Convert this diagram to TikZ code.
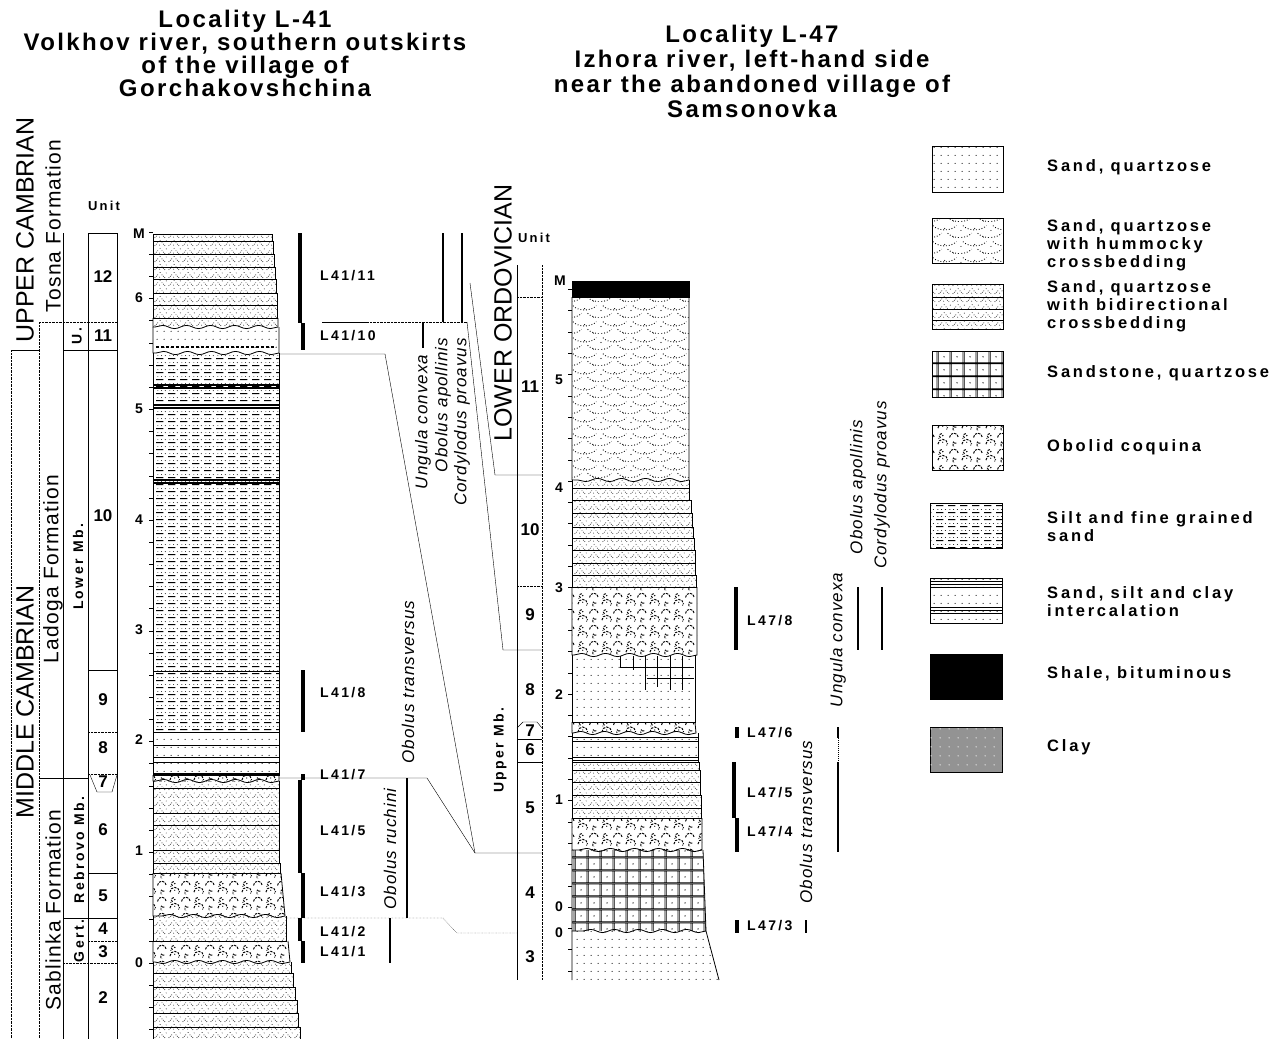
\documentclass[tikz,border=0pt]{standalone}
\usepackage{fontspec}
\setmainfont{Liberation Sans}
\newfontfamily\spaced[LetterSpace=17]{Liberation Sans}
\newfontfamily\loose[LetterSpace=6]{Liberation Sans}
\newfontfamily\titlefont[LetterSpace=10]{Liberation Sans}
\usetikzlibrary{patterns.meta,decorations.pathmorphing}

\tikzset{dotline/.style={line width=0.9pt,dash pattern=on 0.9pt off 2pt},
  shell/.style={line width=1pt,dash pattern=on 2.4pt off 1.2pt}}

% lithology fills
\tikzdeclarepattern{name=sandq,type=colored,
  bottom left={(0pt,0pt)},top right={(7pt,8pt)},tile size={(7pt,8pt)},
  code={\tikzset{x=1pt,y=1pt}\fill[black] (3.5,4) circle[radius=0.65];}}
\tikzdeclarepattern{name=hummock,type=colored,
  bottom left={(0pt,0pt)},top right={(30pt,16pt)},tile size={(30pt,16pt)},
  code={\tikzset{x=1pt,y=1pt}
    \draw[black,dotline] (3,14) .. controls (9,8) and (21,8) .. (27,14);
    \draw[black,dotline] (-12,6) .. controls (-6,0) and (6,0) .. (12,6);
    \draw[black,dotline] (18,6) .. controls (24,0) and (36,0) .. (42,6);
    \fill[black] (15,11) circle[radius=0.6] (1,9) circle[radius=0.6] (24,2) circle[radius=0.6];}}
\tikzdeclarepattern{name=bidir,type=colored,
  bottom left={(0pt,0pt)},top right={(14pt,8pt)},tile size={(14pt,8pt)},
  code={\tikzset{x=1pt,y=1pt}
    \foreach \x/\y in {1/1.5,2.5/3,4/4.5,8.5/4.5,10/3,11.5/1.5,6.5/7,6/2,13/6.5}
      \fill[black] (\x,\y) circle[radius=0.5];}}
\tikzdeclarepattern{name=sandstone,type=colored,
  bottom left={(0pt,0pt)},top right={(12.5pt,13pt)},tile size={(12.5pt,13pt)},
  code={\tikzset{x=1pt,y=1pt}
    \draw[black,line width=1.1pt] (0,0) -- (12.5,0) (0,13) -- (12.5,13)
      (0,0) -- (0,13) (12.5,0) -- (12.5,13);
    \fill[black] (6.25,6.5) circle[radius=0.7];}}
\tikzdeclarepattern{name=coquina,type=colored,
  bottom left={(0pt,0pt)},top right={(24pt,16pt)},tile size={(24pt,16pt)},
  code={\tikzset{x=1pt,y=1pt}
    \draw[black,shell] (2,3) arc[start angle=180,end angle=0,radius=5];
    \draw[black,shell] (14,10) arc[start angle=180,end angle=0,radius=4.5];
    \draw[black,shell] (21,4) arc[start angle=60,end angle=250,radius=2.5];
    \draw[black,shell] (6,14) arc[start angle=90,end angle=240,radius=2.5];
    \fill[black] (7,12) circle[radius=0.8] (18,5) circle[radius=0.8]
      (3,9) circle[radius=0.6] (11,2) circle[radius=0.6] (7,5) circle[radius=0.7];}}
\tikzdeclarepattern{name=silt,type=colored,
  bottom left={(0pt,0pt)},top right={(12pt,7pt)},tile size={(12pt,7pt)},
  code={\tikzset{x=1pt,y=1pt}
    \draw[black,line width=1pt] (0,1.5) -- (8,1.5);
    \fill[black] (2,5) circle[radius=0.5] (6,5) circle[radius=0.5] (10,5) circle[radius=0.5];}}
\tikzdeclarepattern{name=claydots,type=colored,
  bottom left={(0pt,0pt)},top right={(9pt,9pt)},tile size={(9pt,9pt)},
  code={\tikzset{x=1pt,y=1pt}\fill[white] (4.5,4.5) circle[radius=0.7];}}

% one bed: left x, top, bottom, right x, fill
\newcommand\bed[5]{\path[pattern=#5] (#1,#2) rectangle (#4,#3);
  \draw[line width=0.8pt] (#1,#2) rectangle (#4,#3);}
\newcommand\bedw[5]{\path[pattern=#5] (#1,#2) rectangle (#4,#3);
  \draw[line width=0.8pt] (#1,#2) -- (#1,#3) -- (#4,#3) -- (#4,#2);}
% bed with an eroded (wavy) base
\newcommand\wave[6]{\path[pattern=#6] (#1,#2) -- (#4,#2) -- (#5,#3) -- (#1,#3) -- cycle;
  \draw[line width=0.8pt] (#4,#2) -- (#5,#3)
    decorate[decoration={snake,amplitude=1.6pt,segment length=24pt}]{-- (#1,#3)} -- (#1,#2);}

\begin{document}
\begin{tikzpicture}[x=1pt,y=-1pt]
\tikzstyle{every node}=[inner sep=0pt]
\tikzstyle{ttl}=[align=center,font=\titlefont\bfseries\fontsize{24}{23}\selectfont]
\tikzstyle{era}=[rotate=90,font=\fontsize{25}{27}\selectfont]
\tikzstyle{fm}=[rotate=90,font=\loose\fontsize{21}{23}\selectfont]
\tikzstyle{mb}=[rotate=90,font=\spaced\bfseries\fontsize{14}{16}\selectfont]
\tikzstyle{unitno}=[font=\bfseries\fontsize{17}{19}\selectfont]
\tikzstyle{depthno}=[anchor=east,font=\bfseries\fontsize{14}{16}\selectfont]
\tikzstyle{sample}=[anchor=west,font=\spaced\bfseries\fontsize{14}{16}\selectfont]
\tikzstyle{taxon}=[rotate=90,font=\loose\itshape\fontsize{17}{19}\selectfont]
\tikzstyle{legtext}=[anchor=west,align=left,font=\spaced\bfseries\fontsize{16.5}{18}\selectfont]
\tikzstyle{rangebar}=[line width=3.2pt]
\tikzstyle{frame}=[line width=0.8pt]

\fill[white] (0,0) rectangle (1286,1039);
\useasboundingbox (0,0) rectangle (1286,1039);

% titles
\node[ttl] (t41) at (245,53) {Locality L-41\\Volkhov river, southern outskirts\\of the village of\\Gorchakovshchina};
\node[ttl,font=\titlefont\bfseries\fontsize{24}{25}\selectfont] (t47) at (752,71) {Locality L-47\\Izhora river, left-hand side\\near the abandoned village of\\Samsonovka};

% ---------- L-41 ----------
\node[era] (uc) at (25,230) {UPPER CAMBRIAN};
\node[era] (mc) at (25,702) {MIDDLE CAMBRIAN};
\node[fm] (tosna) at (53,226) {Tosna Formation};
\node[fm] (ladoga) at (53,569) {Ladoga Formation};
\node[fm] (sablinka) at (53,910) {Sablinka Formation};
\node[mb] (mbu) at (77,336) {U.};
\node[mb] (mblow) at (78,567) {Lower Mb.};
\node[mb] (mbreb) at (79,850) {Rebrovo Mb.};
\node[mb] (mbgert) at (79,941) {Gert.};
\node[sample,anchor=center,font=\spaced\bfseries\fontsize{13}{15}\selectfont] (unitL) at (104,206) {Unit};

\draw[densely dotted] (11,350) -- (11,1039) (39,322) -- (39,1039) (39,322) -- (117,322);
\draw[frame] (11,350) -- (39,350);
\draw[frame] (63,233) -- (63,1039) (88,233) -- (88,1039) (117,233) -- (117,1039) (88,233) -- (117,233);
\draw[frame] (63,350) -- (117,350) (88,670) -- (117,670) (39,778) -- (88,778)
  (88,873) -- (117,873) (63,918) -- (117,918);
\draw[densely dotted] (88,732) -- (117,732) (88,774) -- (117,774) (88,941) -- (117,941) (63,963) -- (117,963);
\draw (90,775) -- (97,792) -- (112,792) -- (117,775);
\foreach \n/\y in {12/277,11/336,10/516,9/700,8/748,7/782,6/830,5/896,4/929,3/952,2/998}
  \node[unitno] (uL\n) at (103,\y) {\n};

\node[depthno] (dLM) at (145,234) {M};
\foreach \d/\y in {6/298,5/409,4/520,3/630,2/740,1/851,0/963}
  \node[depthno] (dL\d) at (143,\y) {\d};
\foreach \k in {-3,...,33}
  \draw (149,{963-22.15*\k}) -- (153,{963-22.15*\k});

% beds, top to bottom
\bed{153}{234}{241}{272}{bidir}
\bed{153}{241}{254}{273}{bidir}
\bed{153}{254}{267}{274}{bidir}
\bed{153}{267}{279}{275}{bidir}
\bed{153}{279}{293}{276}{bidir}
\bed{153}{293}{305}{277}{bidir}
\bed{153}{305}{318}{277}{bidir}
\wave{153}{318}{327}{278}{278}{bidir}
\wave{153}{327}{353}{279}{279}{sandq}
\draw[line width=1.3pt,dash pattern=on 3pt off 2pt] (156,347) -- (276,347);
\bedw{153}{353}{671}{279}{silt}
\bed{153}{671}{732}{279}{silt}
\foreach \y in {385,388,405,408,480,483}
  \draw[line width=1.1pt] (153,\y) -- (279,\y);
\bed{153}{732}{775}{279}{sandq}
\foreach \y in {745,757,762}
  \draw[frame] (153,\y) -- (279,\y);
\draw[line width=2pt] (153,774) -- (279,774);
\wave{153}{775}{781}{279}{279}{coquina}
\bedw{153}{781}{788}{279}{bidir}
\bed{153}{788}{813}{279}{bidir}
\bed{153}{813}{825}{279}{bidir}
\bed{153}{825}{850}{279}{bidir}
\bed{153}{850}{863}{279}{bidir}
\bed{153}{863}{873}{280}{bidir}
\wave{153}{873}{916}{281}{285}{coquina}
\bedw{153}{916}{941}{286}{bidir}
\wave{153}{941}{962}{288}{290}{coquina}
\bedw{153}{962}{973}{291}{bidir}
\bed{153}{973}{987}{293}{bidir}
\bed{153}{987}{1000}{295}{bidir}
\bed{153}{1000}{1013}{297}{bidir}
\bed{153}{1013}{1027}{298}{bidir}
\bed{153}{1027}{1045}{300}{bidir}

% samples
\draw[rangebar] (300,233) -- (300,323) (303,323) -- (303,350) (303,670) -- (303,732)
  (303,774) -- (303,780) (300,780) -- (300,873) (303,873) -- (303,918)
  (300,918) -- (300,941) (303,941) -- (303,963);
\foreach \s/\y in {11/276,10/336,8/693,7/775,5/831,3/892,2/932,1/952}
  \node[sample] (sL\s) at (320,\y) {L41/\s};

% taxa
\node[taxon] (ucL) at (423,422) {Ungula convexa};
\node[taxon] (oaL) at (443,405) {Obolus apollinis};
\node[taxon] (cpL) at (462,422) {Cordylodus proavus};
\node[taxon] (otL) at (408,682) {Obolus transversus};
\node[taxon] (orL) at (390,849) {Obolus ruchini};
\draw[line width=2.6pt] (423,323) -- (423,348) (443,233) -- (443,322) (462,233) -- (462,322)
  (407,778) -- (407,918) (390,918) -- (390,963);

% ---------- L-47 ----------
\node[era] (lo) at (503,313) {LOWER ORDOVICIAN};
\node[mb] (mbup) at (500,750) {Upper Mb.};
\node[sample,anchor=center,font=\spaced\bfseries\fontsize{13}{15}\selectfont] (unitR) at (534,238) {Unit};
\draw[frame] (517,265) -- (517,980);
\draw[densely dotted] (542,265) -- (542,980) (517,297) -- (542,297) (517,586) -- (542,586);
\draw[frame] (517,739) -- (542,739) (517,762) -- (542,762);
\draw (517,728) -- (523,722) -- (537,722) -- (542,728);
\foreach \n/\y in {11/387,10/530,9/615,8/690,7/731,6/750,5/808,4/893,3/957}
  \node[unitno] (uR\n) at (530,\y) {\n};

\node[depthno] (dRM) at (566,281) {M};
\foreach \d/\y in {5/380,4/488,3/588,2/695,1/800,0/907}
  \node[depthno] (dR\d) at (563,\y) {\d};
\node[depthno] (dR0b) at (563,933) {0};
\foreach \k in {-3,...,29}
  \draw (568,{907-21.3*\k}) -- (572,{907-21.3*\k});

\fill[black] (572,281) rectangle (689,297);
\draw[frame] (572,281) rectangle (689,297);
\wave{572}{297}{480}{689}{689}{hummock}
\bedw{572}{480}{488}{689}{bidir}
\bed{572}{488}{500}{689}{bidir}
\bed{572}{500}{513}{691}{bidir}
\bed{572}{513}{527}{692}{bidir}
\bed{572}{527}{538}{693}{bidir}
\bed{572}{538}{550}{694}{bidir}
\bed{572}{550}{563}{695}{bidir}
\bed{572}{563}{575}{695}{bidir}
\bed{572}{575}{587}{696}{bidir}
\wave{572}{587}{655}{697}{697}{coquina}
\bedw{572}{655}{722}{695}{sandq}
\draw[line width=1pt] (620,667) -- (694,667) (647,678) -- (694,678);
\foreach \x/\yb in {620/667,633/670,645/690,657/687,670/690,682/690}
  \draw[line width=1pt] (\x,656) -- (\x,\yb);
\wave{572}{722}{733}{695}{696}{coquina}
\bedw{572}{733}{762}{698}{sandq}
\foreach \y in {737,741,757,760}
  \draw[frame] (572,\y) -- (698,\y);
\bed{572}{762}{770}{699}{bidir}
\bed{572}{770}{782}{700}{bidir}
\bed{572}{782}{795}{700}{bidir}
\bed{572}{795}{808}{701}{bidir}
\bed{572}{808}{818}{701}{bidir}
\wave{572}{818}{850}{702}{702}{coquina}
\wave{572}{850}{931}{703}{706}{sandstone}
\path[pattern=sandq] (572,931) -- (706,931) -- (719,980) -- (572,980) -- cycle;
\draw[frame] (572,931) -- (572,980) (706,931) -- (719,980);

% samples
\draw[rangebar] (736,587) -- (736,650) (737,727) -- (737,738) (734,762) -- (734,818)
  (737,818) -- (737,852) (737,920) -- (737,933);
\foreach \s/\y in {8/621,6/733,5/793,4/832,3/926}
  \node[sample] (sR\s) at (747,\y) {L47/\s};

% taxa
\node[taxon] (otR) at (806,822) {Obolus transversus};
\node[taxon] (ucR) at (838,640) {Ungula convexa};
\node[taxon] (oaR) at (858,487) {Obolus apollinis};
\node[taxon] (cpR) at (882,485) {Cordylodus proavus};
\draw[line width=2.6pt] (806,920) -- (806,933) (838,727) -- (838,738) (838,762) -- (838,852)
  (858,587) -- (858,650) (882,587) -- (882,650);
\draw[densely dotted,line width=1pt] (838,738) -- (838,762);

% correlation between the sections
\coordinate (a1) at (279,354);
\coordinate (a2) at (385,354);
\coordinate (a3) at (475,853);
\coordinate (a4) at (542,853);
\coordinate (b1) at (279,778);
\coordinate (b2) at (427,778);
\coordinate (c1) at (286,918);
\coordinate (c2) at (443,918);
\coordinate (c3) at (457,933);
\coordinate (c4) at (517,933);
\coordinate (d1) at (322,322);
\coordinate (d2) at (367,322);
\coordinate (d3) at (467,322);
\coordinate (d4) at (503,650);
\coordinate (d5) at (542,650);
\coordinate (e1) at (470,283);
\coordinate (e2) at (495,475);
\coordinate (e3) at (542,475);
\draw (a1) -- (a2) -- (a3) -- (a4);
\draw (b1) -- (b2) -- (a3);
\draw[densely dotted] (c1) -- (c2) -- (c3) -- (c4);
\draw (d1) -- (d2);
\draw[densely dotted] (d2) -- (d3);
\draw (d3) -- (d4) -- (d5);
\draw (e1) -- (e2) -- (e3);

% ---------- legend ----------
\draw[frame,pattern=sandq] (932,146) rectangle (1003,192);
\node[legtext] (lg1) at (1047,167) {Sand, quartzose};
\draw[frame,pattern=hummock] (932,218) rectangle (1003,263);
\node[legtext] (lg2) at (1047,245) {Sand, quartzose\\with hummocky\\crossbedding};
\draw[frame,pattern=bidir] (932,284) rectangle (1003,329);
\draw[frame] (932,297) -- (1003,297) (932,309) -- (1003,309) (932,320) -- (1003,320);
\node[legtext] (lg3) at (1047,306) {Sand, quartzose\\with bidirectional\\crossbedding};
\draw[frame,pattern=sandstone] (932,351) rectangle (1003,397);
\node[legtext] (lg4) at (1047,373) {Sandstone, quartzose};
\draw[frame,pattern=coquina] (932,425) rectangle (1003,470);
\node[legtext] (lg5) at (1047,447) {Obolid coquina};
\draw[frame,pattern=silt] (930,503) rectangle (1002,548);
\node[legtext] (lg6) at (1047,527) {Silt and fine grained\\sand};
\draw[frame,pattern=sandq] (930,578) rectangle (1002,623);
\foreach \y in {581,584,587,607,610,613}
  \draw (930,\y) -- (1002,\y);
\node[legtext] (lg7) at (1047,602) {Sand, silt and clay\\intercalation};
\draw[frame,fill=black] (930,654) rectangle (1002,699);
\node[legtext] (lg8) at (1047,674) {Shale, bituminous};
\draw[frame,fill=gray!85,postaction={pattern=claydots}] (930,727) rectangle (1002,772);
\node[legtext] (lg9) at (1047,747) {Clay};
\end{tikzpicture}
\end{document}
